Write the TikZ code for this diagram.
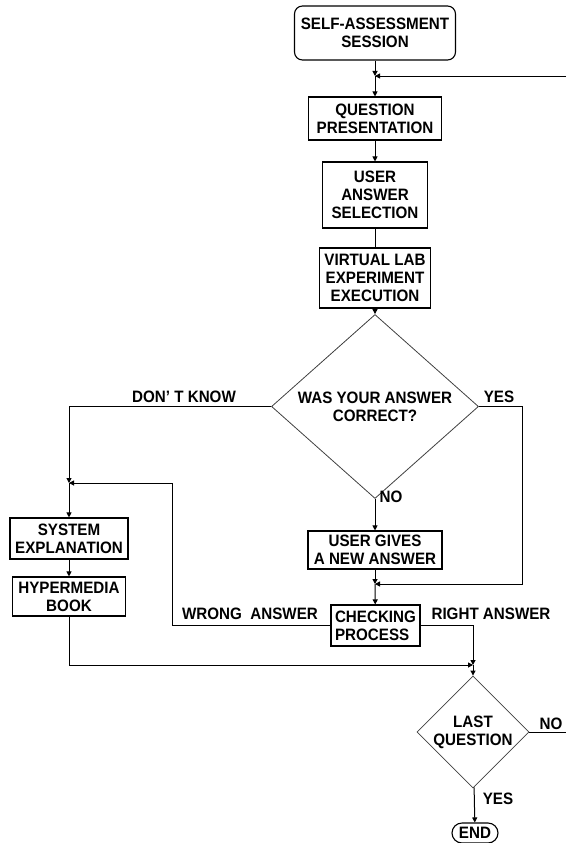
\documentclass[tikz,border=0pt]{standalone}
\usepackage{fontspec}
\setmainfont{Liberation Sans}[FakeStretch=0.92]
\usetikzlibrary{positioning,arrows.meta,shapes.geometric,shapes.misc}

\begin{document}
\begin{tikzpicture}[x=1pt, y=-1pt, font=\fontsize{16.5}{18}\selectfont\bfseries,
  box/.style={draw=black, line width=1.1pt, align=center, inner sep=1pt},
  decision/.style={diamond, draw=black!75, line width=0.8pt, align=center, inner sep=0pt},
  lbl/.style={inner sep=0pt},
  conn/.style={line width=1pt},
  arr/.style={conn, -{Triangle[length=5pt, width=5pt]}}]
\useasboundingbox (0,0) rectangle (566,843);
% main column
\node[box, rounded corners=8pt, minimum width=161pt, minimum height=54pt] (start) at (375,33) {SELF-ASSESSMENT\\SESSION};
\node[box, minimum width=133pt, minimum height=43pt] (qpres) at (375,118.5) {QUESTION\\PRESENTATION};
\node[box, minimum width=105pt, minimum height=66pt] (usel) at (375,195) {USER\\ANSWER\\SELECTION};
\node[box, minimum width=111pt, minimum height=60pt] (vlab) at (375,278) {VIRTUAL LAB\\EXPERIMENT\\EXECUTION};
\node[decision, minimum width=207pt, minimum height=161pt] (correct) at (375,406.5) {WAS YOUR ANSWER\\CORRECT?};
\node[box, minimum width=134pt, minimum height=38pt] (newans) at (375,550) {USER GIVES\\A NEW ANSWER};
\node[box, align=left, minimum width=89pt, minimum height=41pt] (check) at (375.5,625.5) {CHECKING\\PROCESS};
% left branch
\node[box, minimum width=118pt, minimum height=41pt] (sysexp) at (69,538.5) {SYSTEM\\EXPLANATION};
\node[box, minimum width=113pt, minimum height=39pt] (hbook) at (69,596.5) {HYPERMEDIA\\BOOK};
% end part
\node[decision, minimum width=112pt, minimum height=112pt] (last) at (473,732) {LAST\\QUESTION};
\node[box, rounded rectangle, minimum width=46pt, minimum height=20pt, inner sep=0pt] (endn) at (475,833) {END};
% labels
\node[lbl] (dontknow) at (184,397) {DON' T KNOW};
\node[lbl] (yes1) at (499,397) {YES};
\node[lbl] (no1) at (391,497) {NO};
\node[lbl] (wrong) at (250,614) {WRONG\ \ ANSWER};
\node[lbl] (right) at (491,614) {RIGHT ANSWER};
\node[lbl] (no2) at (551,724) {NO};
\node[lbl] (yes2) at (498,799) {YES};
% junctions
\coordinate (jtop) at (375,76);
\coordinate (loopin) at (566,76);
\coordinate (jleft) at (69,483);
\coordinate (jmid) at (375,584);
\coordinate (jlow) at (473,665);
\coordinate (noout) at (566,732);
% connectors
\draw[arr] (start) -- (jtop);
\draw[arr] (loopin) -- (jtop);
\draw[arr] (jtop) -- (qpres);
\draw[arr] (qpres) -- (usel);
\draw[conn] (usel) -- (vlab);
\draw[arr] (vlab) -- (correct);
\draw[arr] (correct.west) -| (jleft);
\draw[arr] (jleft) -- (sysexp);
\draw[arr] (sysexp) -- (hbook);
\draw[arr] (hbook.south) |- (jlow);
\draw[arr] (correct) -- (newans);
\draw[arr] (newans) -- (jmid);
\draw[arr] (correct.east) -- ++(44,0) |- (jmid);
\draw[arr] (jmid) -- (check);
\draw[arr] (check.west) -- ++(-158,0) |- (jleft);
\draw[arr] (check.east) -| (jlow);
\draw[arr] (jlow) -- (last);
\draw[conn] (last) -- (noout);
\draw[arr] (last) -- (endn);
\end{tikzpicture}
\end{document}
